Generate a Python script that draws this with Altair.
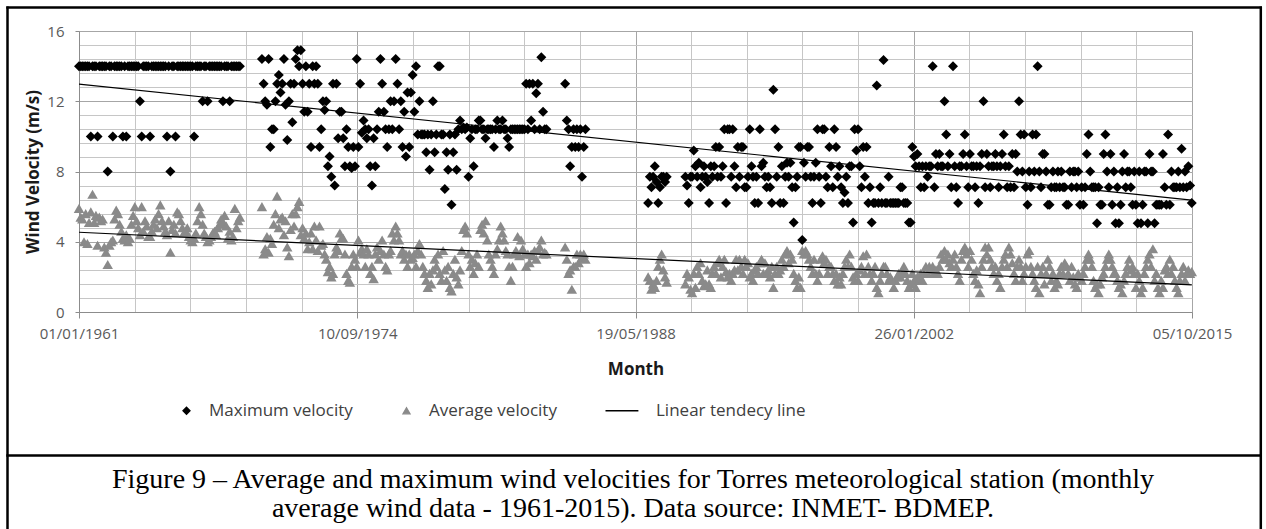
import altair as alt
import pandas as pd
from datetime import datetime, timedelta, timezone

N = None

# ---------------- data, one row per year, Jan..Dec ----------------
MAX_1961_1968 = [
    [14, 14, 14, 14, 14, 14, 14, 10, 14, 14, 14, 10],
    [14, 14, 14, 14, 14, 8, 14, 14, 10, 14, 14, 14],
    [14, 14, 10, 14, 10, 14, 14, 14, 14, 14, 14, 14],
    [12, 10, 14, 14, 14, 14, 10, 14, 14, 14, 14, 14],
    [14, 14, 14, 14, 10, 14, 8, 14, 14, 10, 14, 14],
    [14, 14, 14, 14, 14, 14, 14, 14, 10, 14, 14, 14],
    [14, 12, 14, 14, 12, 14, 14, 14, 14, 14, 14, 14],
    [14, 12, 14, 14, 14, 12, 14, 14, 14, 14, 14, 14],
]
AVG_1961_1968 = [
    [5.9, 5.4, 5.3, 4.0, 5.6, 3.9, 5.1, 5.7, 6.7, 5.1, 5.5, 3.8],
    [5.4, 5.2, 5.3, 3.7, 3.4, 2.7, 3.8, 4.0, 4.1, 5.3, 5.8, 5.6],
    [5.0, 4.6, 4.2, 4.1, 4.4, 4.0, 4.2, 5.0, 5.5, 6.0, 5.2, 4.8],
    [4.4, 6.0, 4.6, 5.2, 4.9, 4.3, 4.3, 4.6, 5.0, 5.3, 4.8, 5.6],
    [6.1, 5.2, 4.9, 4.6, 4.4, 5.2, 3.4, 4.7, 5.0, 4.5, 5.7, 5.6],
    [5.2, 4.8, 4.5, 4.6, 4.8, 4.3, 4.1, 4.0, 4.2, 4.5, 5.2, 6.0],
    [5.6, 5.0, 4.5, 4.3, 4.0, 4.1, 4.3, 4.5, 4.6, 4.4, 4.8, 5.0],
    [5.3, 5.1, 5.5, 4.9, 4.2, 4.6, 4.1, 4.3, 5.9, 4.8, 5.2, 5.4],
]
MAX_1970_1985 = [
    [14.4, 13.0, 12.0, 11.8, 14.4, 9.4, 10.4, 10.4, 12.0, 13.0, 13.5, 12.5],
    [13.0, 14.4, 11.8, 9.8, 12.0, 13.0, 10.8, 13.0, 14.4, 14.9, 14.0, 14.9],
    [13.0, 11.4, 14.0, 11.4, 13.0, 9.4, 14.0, 13.0, 14.0, 13.0, 9.4, 10.4],
    [12.0, 11.5, 12.0, 8.3, 8.85, 7.7, 13.0, 7.2, 13.0, 9.9, 11.4, 11.4],
    [9.9, 8.3, 10.4, 9.4, 8.3, 8.2, 9.4, 8.3, 14.4, 9.4, 13.0, 10.2],
    [10.9, 10.4, 9.9, 10.4, 8.3, 7.2, 9.9, 8.3, 10.4, 11.4, 14.4, 13.0],
    [11.4, 10.4, 9.4, 10.4, 12.0, 10.4, 12.0, 14.4, 13.0, 10.4, 12.0, 9.4],
    [11.4, 8.85, 12.5, 9.4, 12.5, 13.5, 11.4, 14.0, 10.1, 12.0, 10.1, 10.1],
    [10.1, 9.1, 10.1, 8.1, 10.1, 12.0, 9.1, 10.1, 14.0, 14.0, 10.1, 10.1],
    [7.0, 9.1, 8.1, 10.1, 6.1, 9.1, 10.1, 8.1, 10.4, 10.9, 10.4, 10.5],
    [10.4, 10.5, 7.7, 9.9, 10.4, 8.3, 10.4, 10.4, 10.9, 10.9, 10.4, 10.4],
    [9.9, 10.4, 10.4, 10.4, 10.4, 9.4, 10.4, 10.9, 10.4, 10.4, 10.9, 10.4],
    [10.4, 9.9, 9.4, 10.4, 10.4, 10.4, 10.4, 10.4, 10.4, 10.4, 10.4, 10.4],
    [13.0, 10.4, 13.0, 10.9, 13.0, 10.4, 12.45, 13.0, 10.4, 14.5, 11.4, 10.4],
    [10.4, N, N, N, N, N, N, N, N, N, N, 13.0],
    [10.9, 10.4, 8.3, 9.4, 10.4, 9.4, 10.4, 9.4, 10.4, 7.7, 9.4, 10.4],
]
AVG_1970_1985 = [
    [6.0, 3.3, 3.6, 4.3, 3.4, 4.2, 3.9, 5.0, 5.6, 6.6, 4.8, 5.3],
    [5.4, 4.4, 5.2, 3.7, 3.2, 4.7, 5.6, 4.9, 5.6, 6.0, 6.3, 4.4],
    [4.8, 4.2, 4.5, 3.6, 4.0, 4.5, 3.6, 4.9, 4.1, 3.5, 4.9, 3.8],
    [3.9, 3.3, 3.0, 2.3, 2.6, 2.0, 2.2, 3.3, 3.7, 3.5, 4.5, 4.2],
    [4.2, 3.3, 2.2, 1.8, 1.7, 2.6, 3.3, 3.0, 2.6, 4.1, 3.4, 3.6],
    [3.3, 2.6, 3.6, 3.3, 2.2, 2.6, 1.9, 3.3, 3.7, 3.0, 3.5, 4.1],
    [3.3, 2.6, 2.4, 3.3, 3.5, 4.5, 4.1, 4.9, 4.5, 4.1, 3.3, 3.5],
    [3.0, 3.3, 2.6, 3.3, 3.0, 3.1, 3.3, 2.6, 3.5, 3.9, 3.3, 2.6],
    [2.2, 1.8, 1.4, 2.2, 1.6, 2.4, 3.0, 2.6, 3.3, 2.2, 1.8, 3.5],
    [2.4, 1.8, 2.6, 1.4, 1.2, 2.2, 3.0, 2.0, 1.6, 2.4, 3.5, 4.7],
    [4.9, 4.5, 3.3, 2.6, 3.0, 2.2, 2.8, 3.3, 2.6, 4.7, 5.0, 4.5],
    [5.2, 4.1, 3.3, 3.0, 2.6, 2.2, 3.3, 3.6, 4.1, 4.9, 4.5, 4.1],
    [3.5, 3.3, 2.6, 1.8, 2.6, 3.3, 3.5, 4.3, 3.2, 4.1, 3.6, 3.3],
    [2.6, 3.3, 2.8, 3.3, 3.2, 3.5, 3.0, 3.5, 3.7, 4.1, 3.3, 3.4],
    [3.3, N, N, N, N, N, N, N, N, N, N, 3.7],
    [3.0, 2.2, 2.4, 1.3, 2.6, 2.6, 3.3, 2.8, 3.3, 3.1, 3.3, 3.0],
]
MAX_1989_2001 = [
    [6.2, 7.7, 7.1, 7.7, 8.3, 7.4, 6.2, 7.1, 7.7, 7.7, 7.4, 7.7],
    [N, N, N, N, N, N, N, N, N, N, 7.7, 7.2],
    [6.2, 7.7, 7.7, 9.2, 8.3, 7.7, 8.5, 7.1, 7.7, 8.3, 7.7, 7.4],
    [6.2, 8.3, 7.7, 8.3, 9.4, 7.7, 9.4, 7.7, 8.3, 10.4, 6.2, 10.4],
    [10.4, 7.7, 10.4, 8.3, 7.1, 9.4, 7.7, 9.4, 9.4, 7.1, 7.1, 7.7],
    [10.4, 8.3, 7.7, 6.2, 7.7, 6.2, 10.4, 8.3, 8.5, 7.7, 7.1, 7.7],
    [7.1, 6.2, 12.65, 10.4, 7.7, 9.4, 6.2, 8.3, 6.2, 7.7, 8.5, 7.7],
    [8.5, 7.1, 5.1, 7.1, 7.7, 9.4, 9.4, 4.1, 8.5, 7.7, 9.4, 9.4],
    [7.7, 6.2, 7.7, 8.5, 10.4, 7.7, 6.2, 10.4, 10.4, 7.7, 7.1, 9.4],
    [8.3, 7.1, 10.4, 9.4, 7.7, 8.3, 7.1, 6.2, 6.8, 7.7, 6.2, 8.3],
    [8.3, 5.1, 10.4, 9.2, 10.4, 8.3, 7.1, 9.4, 7.7, 9.4, 6.2, 7.1],
    [5.1, 6.2, 6.2, 12.9, 6.2, 7.1, 6.2, 14.35, 6.2, 6.2, 7.7, 6.2],
    [6.2, 6.2, 6.2, 6.2, 6.2, 7.1, 7.1, 6.2, 6.2, 6.2, 5.1, 5.1],
]
AVG_1989_2001 = [
    [2.0, 1.8, 1.3, 1.6, 1.4, 1.8, 2.6, 3.0, 3.3, 2.4, 2.0, 1.7],
    [N, N, N, N, N, N, N, N, N, N, 1.6, 2.2],
    [2.0, 1.3, 1.1, 2.2, 1.4, 2.6, 2.2, 2.8, 1.8, 1.5, 1.6, 2.4],
    [1.6, 1.4, 2.2, 2.6, 2.2, 2.8, 3.0, 2.0, 2.6, 3.0, 2.3, 2.0],
    [2.2, 1.8, 2.2, 2.4, 3.0, 2.4, 3.0, 2.6, 2.2, 3.0, 2.6, 2.8],
    [2.0, 2.2, 1.8, 2.4, 2.6, 2.2, 2.8, 3.0, 2.2, 2.8, 2.2, 2.4],
    [2.0, 2.6, 1.4, 2.2, 2.6, 2.2, 2.4, 3.0, 2.6, 3.3, 3.5, 2.8],
    [3.3, 3.0, 2.2, 1.8, 1.4, 2.0, 1.4, 3.5, 3.3, 3.5, 3.3, 3.0],
    [2.6, 2.2, 3.0, 2.2, 1.8, 2.2, 3.0, 3.2, 2.8, 3.0, 2.2, 2.6],
    [2.6, 2.2, 1.8, 2.2, 1.6, 2.0, 1.6, 2.2, 2.6, 3.0, 2.6, 3.3],
    [2.6, 2.0, 1.8, 2.2, 1.8, 2.4, 2.6, 3.2, 2.2, 3.3, 2.6, 2.2],
    [1.8, 2.2, 2.6, 1.4, 1.1, 1.8, 2.2, 2.6, 2.6, 2.2, 1.8, 2.0],
    [1.8, 1.4, 1.8, 2.0, 2.2, 2.0, 2.2, 2.6, 2.2, 1.8, 1.4, 1.6],
]
MAX_2002_2015 = [
    [9.4, 8.85, 8.3, 9.0, 8.3, 7.1, 8.3, 7.1, 8.3, 7.7, 8.3, 8.3],
    [14.0, 7.1, 9.0, 8.3, 9.0, 8.3, 8.3, 12.0, 10.1, 8.3, 9.0, 7.1],
    [14.0, 8.3, 7.1, 6.2, 8.3, 8.3, 9.0, 10.1, 8.3, 7.1, 9.0, 8.3],
    [8.3, 7.1, 8.3, 6.2, 8.3, 9.0, 12.0, 7.1, 9.0, 8.3, 7.1, 8.3],
    [8.3, 9.0, 8.3, 7.1, 8.3, 9.0, 10.1, 8.3, 7.1, 8.3, 7.1, 9.0],
    [7.1, 9.0, 8.0, 12.0, 10.1, 8.0, 10.1, 7.1, 6.1, 8.0, 7.1, 10.1],
    [8.0, 10.1, 14.0, 8.0, 7.1, 9.0, 9.0, 8.0, 6.1, 6.1, 7.1, 8.0],
    [7.1, 7.1, 8.0, 7.1, 8.0, 7.1, 7.1, 6.1, 6.1, 8.0, 7.1, 8.0],
    [8.0, 7.1, 8.0, 6.1, 7.1, 6.1, 7.1, 9.0, 10.1, 8.0, 7.1, 7.1],
    [7.1, 5.05, 7.1, 6.1, 6.1, 9.0, 10.1, 8.0, 7.1, 9.0, 6.1, 8.0],
    [5.05, 7.1, 5.05, 6.1, 8.0, 9.0, 7.1, 8.0, 8.0, 7.1, 6.1, 8.0],
    [6.1, 5.05, 8.0, 5.05, 6.1, 8.0, 8.0, 5.05, 9.0, 8.0, 8.0, 5.05],
    [6.1, 6.1, 6.1, 6.1, 9.0, 7.1, 6.1, 10.1, 6.1, 8.0, 7.1, 7.1],
    [7.1, 8.0, 7.1, 9.3, 7.1, 8.0, 7.1, 8.3, 7.2, 6.2],
]
AVG_2002_2015 = [
    [2.2, 1.8, 1.4, 2.0, 1.8, 2.2, 1.8, 2.2, 2.6, 2.2, 2.6, 2.4],
    [2.6, 2.2, 2.4, 2.2, 2.6, 3.3, 3.0, 3.5, 3.0, 3.3, 2.8, 2.6],
    [3.0, 3.3, 2.6, 2.2, 1.8, 3.0, 3.5, 3.7, 3.3, 2.6, 3.5, 3.0],
    [2.2, 1.8, 2.4, 1.6, 1.1, 2.6, 3.0, 3.7, 3.3, 3.7, 3.0, 2.6],
    [2.2, 2.6, 1.8, 2.2, 1.4, 2.6, 3.0, 3.3, 2.6, 3.7, 3.3, 2.8],
    [2.2, 1.8, 2.6, 3.0, 2.6, 1.8, 2.2, 2.6, 3.3, 3.5, 2.6, 2.2],
    [1.8, 1.4, 2.6, 1.1, 2.2, 2.6, 1.6, 2.2, 3.0, 2.6, 1.8, 2.2],
    [1.4, 1.8, 1.6, 2.2, 2.6, 2.2, 2.8, 2.6, 2.2, 1.8, 2.6, 2.0],
    [1.6, 1.4, 2.2, 2.0, 1.8, 2.2, 2.6, 3.0, 3.3, 3.0, 2.6, 1.8],
    [1.4, 1.6, 1.1, 1.6, 2.0, 2.2, 2.6, 3.0, 3.3, 3.0, 2.6, 2.2],
    [2.2, 1.8, 1.4, 1.6, 1.1, 1.8, 2.2, 2.6, 3.0, 2.4, 2.6, 2.2],
    [1.4, 2.2, 1.8, 1.1, 1.4, 2.2, 2.6, 3.0, 3.3, 2.6, 3.6, 1.8],
    [2.2, 1.4, 1.1, 1.8, 1.4, 2.4, 2.6, 2.2, 3.0, 2.2, 2.6, 1.8],
    [1.4, 1.1, 1.8, 2.2, 2.6, 1.8, 2.2, 2.4, 2.2, 2.3],
]

TREND_DATES = ["1961-01-01", "2015-10-01"]
TREND_MAX = [12.98, 6.37]
TREND_AVG = [4.54, 1.54]

SERIES = ["Maximum velocity", "Average velocity", "Linear tendecy line"]
X_TICK_DATES = ["1961-01-01", "1974-09-10", "1988-05-19", "2002-01-26", "2015-10-05"]
X_MINOR_STEP_DAYS = 1000
Y_TICKS = [0, 4, 8, 12, 16]
Y_MINOR_STEP = 0.8
CAPTION = [
    "Figure 9 \u2013 Average and maximum wind velocities for Torres meteorological station (monthly",
    "average wind data - 1961-2015). Data source: INMET- BDMEP.",
]


def to_ms(s):
    d = datetime.strptime(s, "%Y-%m-%d").replace(tzinfo=timezone.utc)
    return int(d.timestamp() * 1000)


def rows_from(start_year, table):
    out = []
    for i, yr in enumerate(table):
        for m, v in enumerate(yr, start=1):
            if v is not None:
                out.append({"date": f"{start_year + i}-{m:02d}-01", "value": v})
    return out


max_rows = (rows_from(1961, MAX_1961_1968) + rows_from(1970, MAX_1970_1985)
            + rows_from(1989, MAX_1989_2001) + rows_from(2002, MAX_2002_2015))
avg_rows = (rows_from(1961, AVG_1961_1968) + rows_from(1970, AVG_1970_1985)
            + rows_from(1989, AVG_1989_2001) + rows_from(2002, AVG_2002_2015))
max_df = pd.DataFrame(max_rows)
avg_df = pd.DataFrame(avg_rows)
trend_df = pd.DataFrame({
    "date": TREND_DATES + TREND_DATES,
    "value": TREND_MAX + TREND_AVG,
    "series": ["max", "max", "avg", "avg"],
})
legend_df = pd.DataFrame({"series": SERIES})
one_df = pd.DataFrame({"k": [0]})

x_start = datetime.strptime(X_TICK_DATES[0], "%Y-%m-%d")
x_end = datetime.strptime(X_TICK_DATES[-1], "%Y-%m-%d")
minor_x = []
d = x_start
while d <= x_end:
    minor_x.append(to_ms(d.strftime("%Y-%m-%d")))
    d += timedelta(days=X_MINOR_STEP_DAYS)
minor_y = [round(k * Y_MINOR_STEP, 1) for k in range(0, 21)]

W, H = 1113, 281
FONT = "Open Sans"
GRID_MAJOR = "#a6a6a6"
GRID_MINOR = "#c6c6c6"
AXIS_COL = "#8c8c8c"

x_scale = alt.Scale(type="utc", domain=[to_ms(X_TICK_DATES[0]), to_ms(X_TICK_DATES[-1])])
y_scale = alt.Scale(domain=[0, 16], nice=False, zero=True)

axis_x_major = alt.Axis(
    orient="bottom", values=[to_ms(s) for s in X_TICK_DATES],
    labelExpr="utcFormat(datum.value, '%d/%m/%Y')",
    title="Month", grid=True, gridColor=GRID_MAJOR, domainColor=AXIS_COL, tickColor=AXIS_COL,
    tickSize=6, labelFlush=False, labelOverlap=False, labelAngle=0, labelPadding=8,
    labelFont=FONT, labelFontSize=15, labelColor="#595959",
    titleFont=FONT, titleFontSize=17, titleFontWeight="bold", titleColor="#1a1a1a", titlePadding=20,
)
axis_x_minor = alt.Axis(orient="bottom", values=minor_x, grid=True, gridColor=GRID_MINOR,
                        labels=False, ticks=False, domain=False, title=None)
axis_y_major = alt.Axis(
    orient="left", values=Y_TICKS, grid=True, gridColor=GRID_MAJOR, domainColor=AXIS_COL,
    tickColor=AXIS_COL, tickSize=4, labelPadding=11, labelFont=FONT, labelFontSize=15,
    labelColor="#595959", title="Wind Velocity (m/s)", titleFont=FONT, titleFontSize=17,
    titleFontWeight="bold", titleColor="#1a1a1a", titlePadding=4,
)
axis_y_minor = alt.Axis(orient="left", values=minor_y, grid=True, gridColor=GRID_MINOR,
                        labels=False, ticks=False, domain=False, title=None)

avg_layer = alt.Chart(avg_df).mark_point(
    shape="triangle-up", filled=True, size=110, color="#8a8a8a", opacity=1
).encode(
    x=alt.X("date:T", scale=x_scale, axis=axis_x_minor),
    y=alt.Y("value:Q", scale=y_scale, axis=axis_y_minor),
)
max_layer = alt.Chart(max_df).mark_point(
    shape="diamond", filled=True, size=100, color="black", opacity=1
).encode(
    x=alt.X("date:T", scale=x_scale, axis=axis_x_major),
    y=alt.Y("value:Q", scale=y_scale, axis=axis_y_major),
)
trend_layer = alt.Chart(trend_df).mark_line(color="black", strokeWidth=1.2).encode(
    x=alt.X("date:T", scale=x_scale, axis=None),
    y=alt.Y("value:Q", scale=y_scale, axis=None),
    detail="series:N",
)

# legend: a long, left-shifted stroke path for the trend-line entry
LINE_SYMBOL = "M-8,0L1.4,0"
leg = alt.Legend(
    orient="none", legendX=99, legendY=371, direction="horizontal", title=None, padding=0,
    labelFont=FONT, labelFontSize=17, labelColor="#404040", labelOffset=14, columnPadding=45,
    symbolSize=49, symbolStrokeWidth=1.3, labelLimit=400,
)
legend_layer = alt.Chart(legend_df).transform_filter("false").mark_point(
    filled=True, opacity=1, strokeWidth=1.3
).encode(
    shape=alt.Shape("series:O", scale=alt.Scale(domain=SERIES, range=["diamond", "triangle-up", LINE_SYMBOL]), legend=leg),
    fill=alt.Fill("series:O", scale=alt.Scale(domain=SERIES, range=["black", "#8a8a8a", "black"]), legend=leg),
    stroke=alt.Stroke("series:O", scale=alt.Scale(domain=SERIES, range=["black", "#8a8a8a", "black"]), legend=leg),
)

# figure frame (outer box and separator above the caption)
frame_left = alt.Chart(one_df).mark_rule(color="black", strokeWidth=2.5).encode(
    x=alt.value(-71.5), y=alt.value(-24.5), y2=alt.value(700))
frame_right = alt.Chart(one_df).mark_rule(color="black", strokeWidth=2.5).encode(
    x=alt.value(1181.8), y=alt.value(-24.5), y2=alt.value(700))
frame_top = alt.Chart(one_df).mark_rule(color="black", strokeWidth=2.5).encode(
    x=alt.value(-72.7), x2=alt.value(1183), y=alt.value(-23.5))
frame_sep = alt.Chart(one_df).mark_rule(color="black", strokeWidth=2.5).encode(
    x=alt.value(-72.7), x2=alt.value(1183), y=alt.value(424.5))
caption = alt.Chart(one_df).mark_text(
    font="Liberation Serif", fontSize=28, lineHeight=28.5, align="center", baseline="middle", color="black"
).encode(text=alt.value(CAPTION), x=alt.value(554), y=alt.value(449))

chart = alt.layer(
    avg_layer, max_layer, trend_layer, legend_layer,
    frame_left, frame_right, frame_top, frame_sep, caption,
).resolve_axis(x="independent", y="independent").properties(
    width=W, height=H,
    padding={"left": 79, "top": 31, "right": 74, "bottom": 217},
    autosize=alt.AutoSizeParams(type="none"),
    background="white",
).configure_view(stroke="transparent")

chart.save("out.html", embed_options={"renderer": "svg", "actions": False})
